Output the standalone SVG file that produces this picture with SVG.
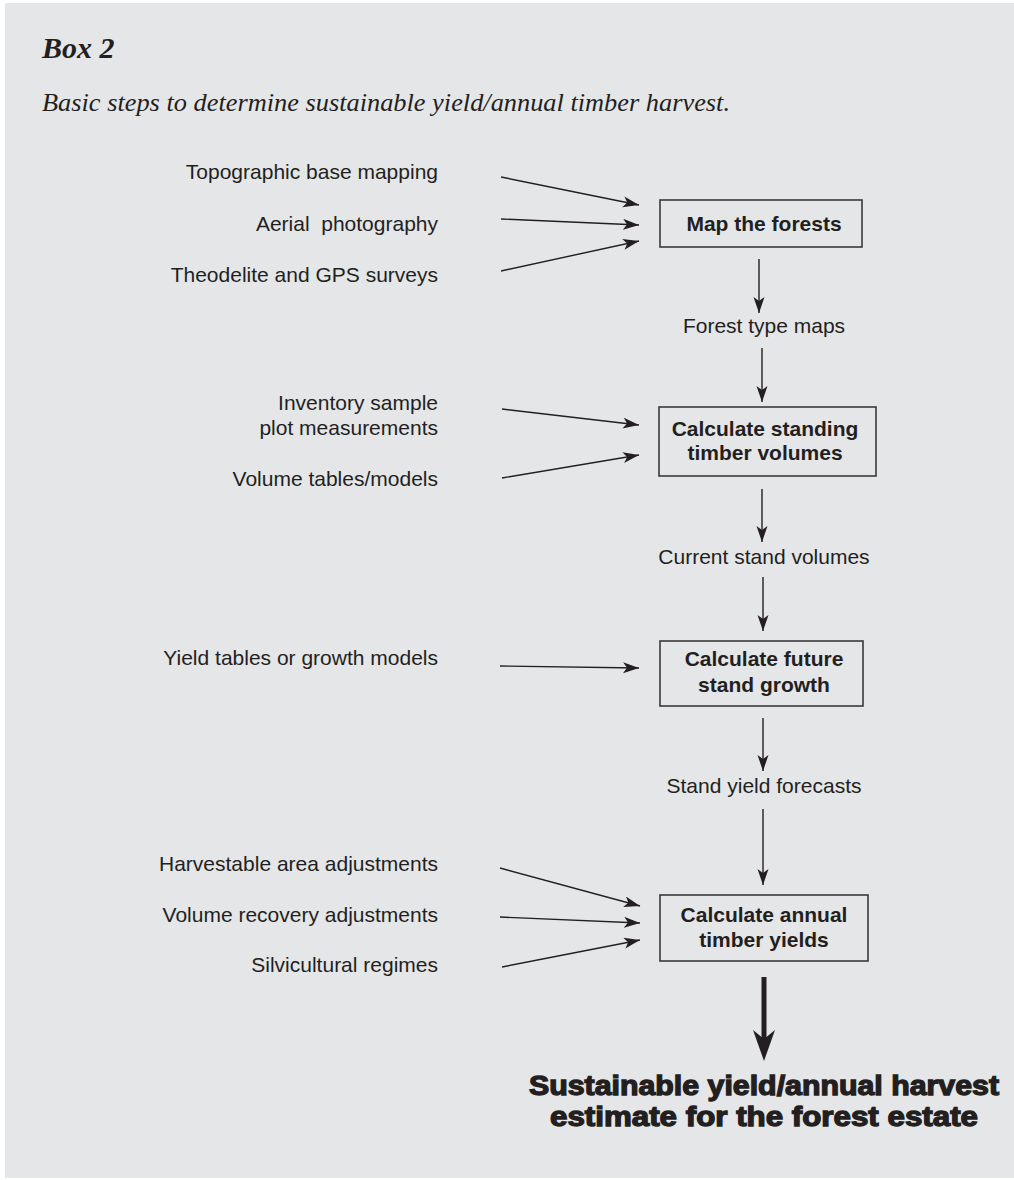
<svg xmlns="http://www.w3.org/2000/svg" width="1014" height="1180" viewBox="0 0 1014 1180">
<style>
.lbl{font-family:"Liberation Sans",Arial,sans-serif;font-size:21px;fill:#231f20;}
.r{text-anchor:end;}
.c{text-anchor:middle;}
.b{font-weight:bold;}
.box{fill:none;stroke:#3a3a3a;stroke-width:1.6;}
.con{stroke:#231f20;stroke-width:1.4;fill:none;marker-end:url(#ah);}
.big{font-family:"Liberation Sans",Arial,sans-serif;font-size:27px;font-weight:bold;fill:#231f20;stroke:#231f20;stroke-width:1.3;text-anchor:middle;}
</style>
<defs>
<marker id="ah" markerUnits="userSpaceOnUse" markerWidth="17" markerHeight="12" refX="16" refY="5.5" orient="auto" viewBox="0 0 17 12">
<path d="M0,0 L16,5.5 L0,11 L4,5.5 Z" fill="#231f20"/>
</marker>
</defs>
<rect x="0" y="0" width="1014" height="1180" fill="#ffffff"/>
<rect x="5" y="3" width="1009" height="1175" fill="#e5e6e8"/>
<text x="42" y="58" style="font-family:'Liberation Serif','Times New Roman',serif;font-size:30px;font-style:italic;font-weight:bold;fill:#231f20">Box 2</text>
<text x="42" y="111" textLength="688" lengthAdjust="spacingAndGlyphs" style="font-family:'Liberation Serif','Times New Roman',serif;font-size:26px;font-style:italic;fill:#231f20">Basic steps to determine sustainable yield/annual timber harvest.</text>

<g id="inputs">
<text class="lbl r" x="438" y="179">Topographic base mapping</text>
<text class="lbl r" x="438" y="231" xml:space="preserve">Aerial  photography</text>
<text class="lbl r" x="438" y="282">Theodelite and GPS surveys</text>
<text class="lbl r" x="438" y="410">Inventory sample</text>
<text class="lbl r" x="438" y="435">plot measurements</text>
<text class="lbl r" x="438" y="486">Volume tables/models</text>
<text class="lbl r" x="438" y="665">Yield tables or growth models</text>
<text class="lbl r" x="438" y="871">Harvestable area adjustments</text>
<text class="lbl r" x="438" y="922">Volume recovery adjustments</text>
<text class="lbl r" x="438" y="972">Silvicultural regimes</text>
</g>

<g id="node-map">
<rect class="box" x="660" y="200" width="202" height="47"/>
<text class="lbl c b" x="764" y="231">Map the forests</text>
</g>
<g id="label-forest-type-maps">
<text class="lbl c" x="764" y="333">Forest type maps</text>
</g>
<g id="node-standing">
<rect class="box" x="659" y="407" width="217" height="69"/>
<text class="lbl c b" x="765" y="436">Calculate standing</text>
<text class="lbl c b" x="765" y="460">timber volumes</text>
</g>
<g id="label-current">
<text class="lbl c" x="764" y="564">Current stand volumes</text>
</g>
<g id="node-growth">
<rect class="box" x="660" y="641" width="203" height="65"/>
<text class="lbl c b" x="764" y="666">Calculate future</text>
<text class="lbl c b" x="764" y="692">stand growth</text>
</g>
<g id="label-forecasts">
<text class="lbl c" x="764" y="793">Stand yield forecasts</text>
</g>
<g id="node-annual">
<rect class="box" x="660" y="895" width="208" height="66"/>
<text class="lbl c b" x="764" y="922">Calculate annual</text>
<text class="lbl c b" x="764" y="947">timber yields</text>
</g>
<g id="node-result">
<text class="big" x="764" y="1095" textLength="470" lengthAdjust="spacingAndGlyphs">Sustainable yield/annual harvest</text>
<text class="big" x="764" y="1126" textLength="428" lengthAdjust="spacingAndGlyphs">estimate for the forest estate</text>
</g>

<g id="connectors">
<line class="con" x1="501" y1="177" x2="639" y2="205"/>
<line class="con" x1="501" y1="219" x2="639" y2="225"/>
<line class="con" x1="501" y1="271" x2="639" y2="241"/>
<line class="con" x1="502" y1="409" x2="639" y2="425"/>
<line class="con" x1="502" y1="478" x2="639" y2="455"/>
<line class="con" x1="500" y1="666" x2="639" y2="668"/>
<line class="con" x1="500" y1="868" x2="640" y2="906"/>
<line class="con" x1="500" y1="917" x2="640" y2="923"/>
<line class="con" x1="502" y1="967" x2="640" y2="940"/>
<line class="con" x1="759" y1="259" x2="759" y2="313"/>
<line class="con" x1="762" y1="348" x2="762" y2="402"/>
<line class="con" x1="762" y1="489" x2="762" y2="542"/>
<line class="con" x1="763" y1="577" x2="763" y2="631"/>
<line class="con" x1="763" y1="718" x2="763" y2="771"/>
<line class="con" x1="763" y1="809" x2="763" y2="885"/>
<line x1="764" y1="977" x2="764" y2="1040" stroke="#231f20" stroke-width="5"/>
<path d="M753,1030 L764,1061 L775,1030 L764,1039 Z" fill="#231f20"/>
</g>
</svg>
